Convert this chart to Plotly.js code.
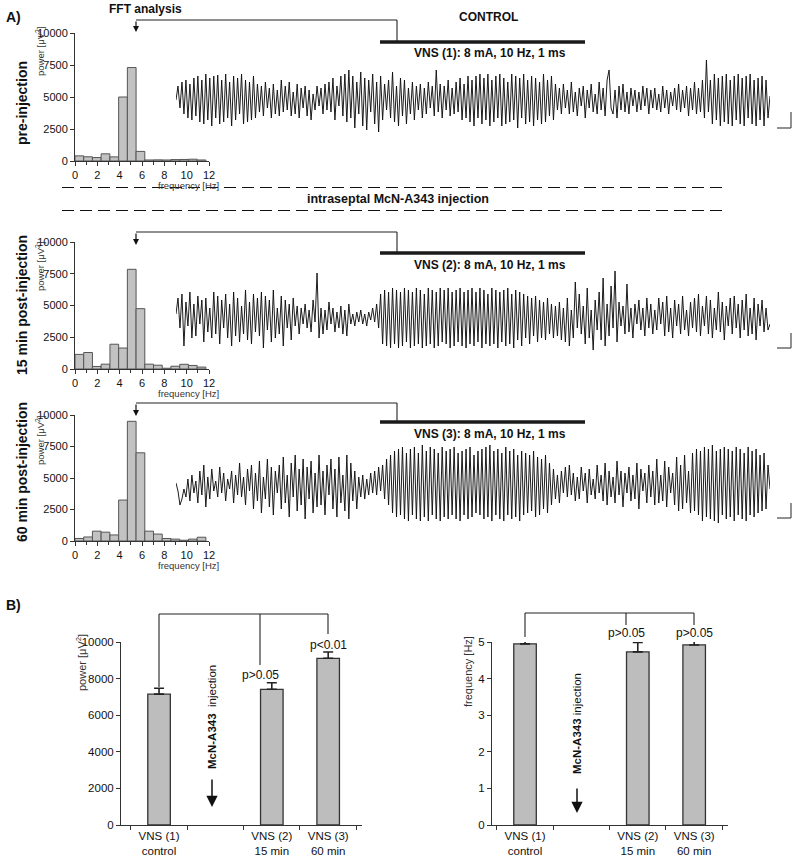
<!DOCTYPE html>
<html>
<head>
<meta charset="utf-8">
<script src="https://cdn.plot.ly/plotly-3.0.1.min.js"></script>
<style>html,body{margin:0;padding:0;background:#fff;}#chart{width:800px;height:859px;}</style>
</head>
<body>
<div id="chart"></div>
<script>
// ---------- DATA ----------
// FFT bin centre frequencies (Hz)
const fftFreq = [0.39, 1.17, 1.95, 2.73, 3.52, 4.30, 5.08, 5.86, 6.64, 7.42, 8.20, 8.98, 9.77, 10.55, 11.33];
const fftBinWidth = 0.78125;
// FFT power (µV²) per row
const powerPre   = [400, 330, 270, 560, 320, 5000, 7300, 750, 80, 90, 80, 110, 120, 140, 80];
const power15min = [1150, 1300, 200, 380, 1950, 1650, 7850, 4750, 380, 300, 60, 220, 370, 280, 150];
const power60min = [200, 320, 780, 700, 480, 3250, 9500, 7000, 780, 550, 200, 150, 60, 150, 300];

// EEG traces (arbitrary units, positive up)
const eegPre = [
 0,14,-8,18,-14,20,-18,16,-20,22,-16,24,-22,20,-24,26,-20,22,-26,24,
 -18,25,-24,20,-22,26,-18,18,-26,24,-20,22,-14,26,-24,20,-22,18,-20,24,
 -18,16,-12,14,-16,18,-8,12,-18,16,-14,10,-16,20,-12,14,-10,18,-16,8,
 -14,16,-18,12,-8,14,-16,10,-20,6,-10,14,-6,12,-14,16,-10,18,-12,22,
 -20,14,-6,24,-16,26,-22,30,-18,24,-28,18,-14,28,-26,22,-30,20,-12,26,
 -24,18,-32,24,-20,16,-10,20,-18,28,-22,14,-26,22,-16,20,-24,12,-14,18,
 -20,14,-10,16,-18,12,-14,18,-8,14,-16,30,-12,16,-18,14,-10,20,-16,12,
 -14,18,-12,22,-20,16,-18,24,-22,20,-26,24,-18,26,-24,22,-20,26,-26,20,
 -22,24,-18,26,-26,22,-24,18,-22,26,-20,24,-28,22,-18,26,-24,20,-22,24,
 -26,22,-20,18,-24,26,-22,20,-16,24,-20,16,-10,12,-14,16,-8,10,-14,18,
 -12,8,-16,12,-6,14,-18,10,-8,16,-12,6,-14,18,-10,12,-16,20,30,-8,
 -14,10,-18,14,-10,16,-12,8,-14,12,-6,10,-12,8,-10,14,-6,12,-14,10,
 -8,12,-10,6,-12,14,-8,10,-14,8,-6,12,-10,16,-12,10,-8,14,-16,12,
 -10,18,-14,12,-12,20,-18,40,-12,20,-24,26,-20,22,-26,24,-22,26,-24,20,
 -26,24,-20,26,-24,22,-26,24,-18,26,-24,20,-26,22,-20,24,-26,20,-18,4
];
const eeg15min = [
 4,20,-10,24,-28,16,-8,26,-20,14,-18,22,-6,18,-24,20,-14,10,-20,26,
 -16,22,-26,18,-10,24,-20,14,-28,26,-18,20,-24,12,-16,28,-22,16,-26,24,
 -14,20,-18,26,-30,22,-12,18,-24,28,-20,10,-16,22,-28,18,-10,14,-22,20,
 -8,12,-16,10,-6,14,-10,8,-14,18,-4,45,-20,10,-16,8,-12,16,-6,10,
 -14,6,-10,12,-16,8,-18,14,-6,4,-8,6,-4,8,-6,4,-8,6,-2,10,
 -4,14,-10,24,-26,28,-28,26,-30,30,-26,28,-30,26,-28,30,-24,28,-30,26,
 -28,30,-26,28,-30,24,-28,30,-26,28,-30,26,-28,30,-24,28,-26,30,-30,26,
 -28,28,-24,30,-28,26,-30,28,-26,30,-28,26,-24,30,-30,28,-26,24,-28,30,
 -26,28,-30,26,-24,28,-28,30,-26,24,-30,28,-22,26,-28,24,-20,22,-26,20,
 -18,22,-24,18,-20,16,-22,20,-16,14,-20,12,-18,16,-22,10,-24,20,-28,8,
 -20,36,-10,24,-16,12,-26,30,-20,8,-32,18,-12,26,-22,40,-28,14,-18,32,
 -10,47,-24,16,-8,12,-16,34,-14,10,-20,14,-6,18,-12,10,-18,20,-10,14,
 -16,8,-12,20,-6,16,-18,22,-14,10,-20,18,-8,14,-16,22,-12,8,-18,16,
 -10,20,-14,24,-18,12,-8,22,-16,18,-20,10,-12,26,-14,16,-22,12,-8,20,
 -16,22,-10,14,-20,18,-12,24,-18,10,-16,20,-22,14,-8,18,-14,10,-12,-6
];
const eeg60min = [
 2,-6,-20,-14,-4,-12,6,-16,10,-8,4,-18,14,-10,20,-22,8,-14,16,-6,
 4,-12,18,-8,12,-16,6,-4,14,-18,10,-10,22,-12,8,-20,16,-6,20,-24,
 12,-16,24,-28,8,-14,26,-22,18,-30,14,-8,20,-24,28,-18,10,-32,22,-12,
 30,-26,16,-20,26,-34,18,-14,24,-28,12,-22,30,-20,14,-30,20,-10,26,-24,
 16,-32,28,-18,10,-26,30,-34,22,-16,14,-24,8,-12,10,-14,6,-10,12,-8,
 14,-10,18,-6,20,-14,26,-20,30,-28,34,-32,36,-30,38,-34,32,-36,36,-30,
 38,-34,32,-36,40,-32,34,-36,38,-30,36,-34,32,-36,38,-32,34,-34,36,-30,
 38,-34,32,-36,34,-30,36,-34,38,-32,30,-28,34,-30,36,-34,38,-32,40,-36,
 34,-30,36,-34,32,-36,38,-30,34,-34,36,-32,30,-36,34,-30,32,-28,30,-26,
 34,-32,28,-30,26,-24,30,-28,22,-20,16,-14,10,-18,14,-8,18,-12,20,-10,
 12,-16,8,-14,18,-6,12,-18,16,-10,6,-14,20,-8,10,-16,22,-20,14,-12,
 8,-18,24,-10,14,-22,12,-8,18,-16,10,-14,22,-24,16,-6,12,-18,20,-12,
 14,-20,26,-18,10,-16,24,-22,18,-8,12,-20,28,-26,20,-24,30,-18,14,-28,
 32,-26,36,-30,34,-36,38,-32,36,-34,40,-36,34,-38,36,-30,38,-34,36,-32,
 34,-36,38,-30,36,-34,32,-36,38,-30,34,-32,36,-28,30,-26,32,-24,20,-4
];

// Panel B
const barCats  = ["VNS (1)<br>control", "VNS (2)<br>15 min", "VNS (3)<br>60 min"];
const barPower = [7150, 7415, 9110];
const barPowerErr = [320, 360, 345];
const barFreq  = [4.95, 4.73, 4.92];
const barFreqErr = [0.12, 0.26, 0.15];
const pPower = ["p>0.05", "p<0.01"];
const pFreq  = ["p>0.05", "p>0.05"];

// ---------- LAYOUT HELPERS ----------
const W = 800, H = 859;
const FONT = "Liberation Sans, Arial, sans-serif";
const px = x => x / W;
const py = y => 1 - y / H;
const domX = (a, b) => [px(a), px(b)];
const domY = (top, bot) => [py(bot), py(top)];

const axCol = '#333';
function histX(anchor, dom) {
  return {domain: dom, anchor: anchor, range: [0, 12], dtick: 2, tick0: 0,
    ticks: 'outside', ticklen: 4, tickwidth: 1, tickcolor: axCol,
    minor: {dtick: 1, ticks: 'outside', ticklen: 3, tickcolor: axCol},
    showline: true, linecolor: axCol, linewidth: 1, showgrid: false, zeroline: false,
    tickfont: {size: 11, color: '#111'}, fixedrange: true};
}
function histY(anchor, dom) {
  return {domain: dom, anchor: anchor, range: [0, 10000], tickvals: [0, 2500, 5000, 7500, 10000],
    tickformat: 'd', ticks: 'outside', ticklen: 4, tickwidth: 1, tickcolor: axCol,
    showline: true, linecolor: axCol, linewidth: 1, showgrid: false, zeroline: false,
    tickfont: {size: 11, color: '#111'}, fixedrange: true};
}
function hidden(dom, range, anchor) {
  return {domain: dom, range: range, visible: false, anchor: anchor, fixedrange: true};
}

const histBar = (y, xa, ya) => ({type: 'bar', x: fftFreq, y: y, width: fftBinWidth, xaxis: xa, yaxis: ya,
  marker: {color: '#c2c2c2', line: {color: '#555', width: 1}}, hoverinfo: 'skip'});
const eegLine = (y, xa, ya) => ({type: 'scatter', mode: 'lines', y: y, xaxis: xa, yaxis: ya,
  line: {color: '#111', width: 0.95}, hoverinfo: 'skip'});
const barTrace = (y, err, xa, ya) => ({type: 'bar', x: barCats, y: y, width: 0.4, xaxis: xa, yaxis: ya,
  marker: {color: '#bdbdbd', line: {color: '#333', width: 1.3}},
  error_y: {type: 'data', array: err, arrayminus: err.map(() => 0), symmetric: false,
    color: '#222', thickness: 1.6, width: 5}, hoverinfo: 'skip'});

const data = [
  histBar(powerPre, 'x', 'y'),
  histBar(power15min, 'x2', 'y2'),
  histBar(power60min, 'x3', 'y3'),
  eegLine(eegPre, 'x4', 'y4'),
  eegLine(eeg15min, 'x5', 'y5'),
  eegLine(eeg60min, 'x6', 'y6'),
  barTrace(barPower, barPowerErr, 'x7', 'y7'),
  barTrace(barFreq, barFreqErr, 'x8', 'y8')
];

const catOrder = [barCats[0], ' ', barCats[1], barCats[2]];
function barX(anchor, dom, range) {
  return {domain: dom, anchor: anchor, type: 'category', categoryorder: 'array', categoryarray: catOrder,
    range: range, ticks: 'outside', tickson: 'boundaries', ticklen: 4, tickcolor: axCol,
    showline: true, linecolor: axCol, linewidth: 1, showgrid: false, zeroline: false,
    tickfont: {size: 11.5, color: '#111'}, fixedrange: true};
}
function barY(anchor, dom, range, dtick) {
  return {domain: dom, anchor: anchor, range: range, dtick: dtick, tickformat: 'd', ticks: 'outside', ticklen: 4,
    tickcolor: axCol, showline: true, linecolor: axCol, linewidth: 1, showgrid: false, zeroline: false,
    tickfont: {size: 11.5, color: '#111'}, fixedrange: true};
}

// annotations
const annots = [];
function txt(text, x, y, o) {
  o = o || {};
  annots.push(Object.assign({text: text, x: px(x), y: py(y), xref: 'paper', yref: 'paper',
    showarrow: false, xanchor: 'center', yanchor: 'middle',
    font: {family: FONT, size: o.size || 12, color: o.color || '#111'}}, o.extra || {}));
}
function arrow(x, yTip, len, o) {
  o = o || {};
  annots.push({text: '', x: px(x), y: py(yTip), xref: 'paper', yref: 'paper', showarrow: true,
    ax: 0, ay: -len, arrowhead: o.head || 2, arrowsize: o.size || 1, arrowwidth: o.width || 1.2,
    arrowcolor: '#111', standoff: 0, startstandoff: 0});
}

txt('<b>A)</b>', 13, 17, {size: 14});
txt('<b>B)</b>', 13, 605, {size: 14});
txt('<b>FFT analysis</b>', 145, 9, {size: 12});
txt('<b>CONTROL</b>', 489, 17, {size: 12});
txt('<b>VNS (1): 8 mA, 10 Hz, 1 ms</b>', 490, 53, {size: 12});
txt('<b>VNS (2): 8 mA, 10 Hz, 1 ms</b>', 490, 265, {size: 12});
txt('<b>VNS (3): 8 mA, 10 Hz, 1 ms</b>', 490, 434, {size: 12});
txt('<b>intraseptal McN-A343 injection</b>', 398, 199, {size: 12.5});
txt('<b>pre-injection</b>', 22, 103, {size: 14, extra: {textangle: -90}});
txt('<b>15 min post-injection</b>', 22, 305, {size: 14, extra: {textangle: -90}});
txt('<b>60 min post-injection</b>', 22, 472, {size: 14, extra: {textangle: -90}});
// histogram axis titles
[[52, 185], [267, 393], [441, 565]].forEach(([yPow, yFreq]) => {
  txt('power [μV<sup>2</sup>]', 40, yPow, {size: 9.5, color: '#333', extra: {textangle: -90}});
  txt('frequency [Hz]', 188, yFreq, {size: 9.5, color: '#333'});
});
// FFT arrows
arrow(136, 32, 12);
arrow(136, 245, 13);
arrow(136, 416, 13);
// Panel B texts
txt('power [μV<sup>2</sup>]', 81, 663, {size: 11, color: '#333', extra: {textangle: -90}});
txt('frequency [Hz]', 468, 672, {size: 11, color: '#333', extra: {textangle: -90}});
txt(pPower[0], 260, 675, {size: 12});
txt(pPower[1], 328, 645, {size: 12});
txt(pFreq[0], 626, 633, {size: 12});
txt(pFreq[1], 694, 633, {size: 12});
txt('<b>McN-A343</b>  injection', 212, 717, {size: 11.5, extra: {textangle: -90}});
txt('<b>McN-A343</b> injection', 577, 724, {size: 11.5, extra: {textangle: -90}});
arrow(212, 807, 29, {size: 1.5, width: 1.5});
arrow(577, 813, 26, {size: 1.5, width: 1.5});

// shapes
const shapes = [];
function seg(x0, y0, x1, y1, o) {
  o = o || {};
  shapes.push({type: 'line', xref: 'paper', yref: 'paper', x0: px(x0), y0: py(y0), x1: px(x1), y1: py(y1),
    line: {color: o.color || '#222', width: o.width || 1.1, dash: o.dash || 'solid'}});
}
[[20, 42], [232, 253], [403, 422]].forEach(([yTop, yBar]) => {
  seg(136, yTop, 397, yTop);
  seg(397, yTop, 397, yBar);
  seg(380, yBar, 585, yBar, {width: 3.5, color: '#1a1a1a'});
});
seg(62, 187.5, 725, 187.5, {dash: '12px,6px', width: 1, color: '#111'});
seg(62, 210.5, 725, 210.5, {dash: '12px,6px', width: 1, color: '#111'});
// calibration bars
[[112, 128], [333, 348], [503, 518]].forEach(([a, b]) => {
  seg(791, a, 791, b, {color: '#555', width: 1.3});
  seg(777, b, 791, b, {color: '#555', width: 1.3});
});
// brackets panel B
seg(159, 614, 328, 614); seg(159, 614, 159, 687); seg(260, 614, 260, 665); seg(328, 614, 328, 634);
seg(525, 613, 694, 613); seg(525, 613, 525, 637); seg(626, 613, 626, 625); seg(694, 613, 694, 625);

const layout = {
  width: W, height: H, autosize: false,
  margin: {l: 0, r: 0, t: 0, b: 0, pad: 0},
  paper_bgcolor: '#fff', plot_bgcolor: 'rgba(0,0,0,0)',
  showlegend: false, barmode: 'overlay',
  font: {family: FONT, color: '#111', size: 12},
  xaxis: histX('y', domX(75, 209)),   yaxis: histY('x', domY(33, 161)),
  xaxis2: histX('y2', domX(75, 209)), yaxis2: histY('x2', domY(242, 369)),
  xaxis3: histX('y3', domX(75, 209)), yaxis3: histY('x3', domY(415, 541)),
  xaxis4: hidden(domX(176, 770), [0, eegPre.length - 1], 'y4'),   yaxis4: hidden(domY(55, 145), [-45, 45], 'x4'),
  xaxis5: hidden(domX(176, 770), [0, eeg15min.length - 1], 'y5'), yaxis5: hidden(domY(263, 373), [-55, 55], 'x5'),
  xaxis6: hidden(domX(176, 770), [0, eeg60min.length - 1], 'y6'), yaxis6: hidden(domY(427, 543), [-58, 58], 'x6'),
  xaxis7: barX('y7', domX(121, 362), [-0.675, 3.6]), yaxis7: barY('x7', domY(642, 825), [0, 10000], 2000),
  xaxis8: barX('y8', domX(492, 728), [-0.586, 3.6]), yaxis8: barY('x8', domY(642, 825), [0, 5], 1),
  annotations: annots, shapes: shapes
};

Plotly.newPlot('chart', data, layout, {staticPlot: true, displayModeBar: false});
</script>
</body>
</html>
